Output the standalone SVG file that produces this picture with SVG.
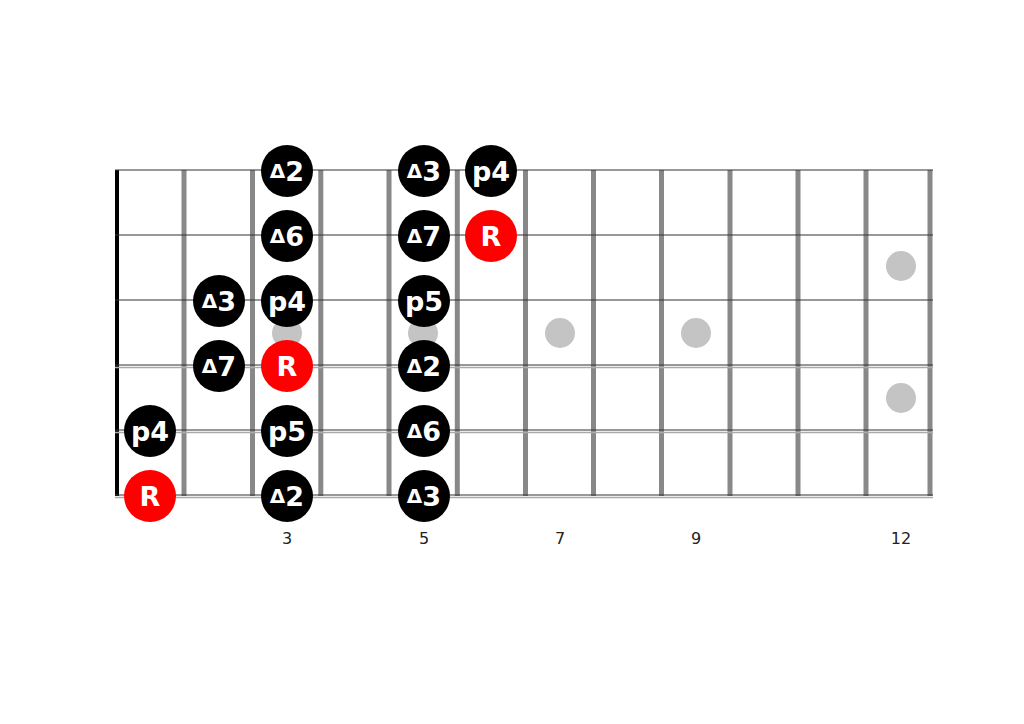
<svg xmlns="http://www.w3.org/2000/svg" width="1024" height="724" viewBox="0 0 1024 724">
<style>
.fret{stroke:#888;stroke-width:5}
.str{stroke:#333;stroke-width:1.2}
.wound{stroke:#aaa;stroke-width:1.5}
.inlay{fill:#c4c4c4}
.n{fill:#000}
.r{fill:#f00}
.lbl{fill:#fff;font-family:"DejaVu Sans",Verdana,sans-serif;font-weight:bold;font-size:27px;text-anchor:middle}
.tri{font-size:20px}
.num{fill:#222;font-family:"DejaVu Sans",Verdana,sans-serif;font-size:16px;text-anchor:middle}
</style>
<rect width="1024" height="724" fill="#fff"/>
<g id="board">
<g id="frets">
<line class="fret" x1="184" y1="170" x2="184" y2="496"/>
<line class="fret" x1="252.5" y1="170" x2="252.5" y2="496"/>
<line class="fret" x1="320.8" y1="170" x2="320.8" y2="496"/>
<line class="fret" x1="389" y1="170" x2="389" y2="496"/>
<line class="fret" x1="457.3" y1="170" x2="457.3" y2="496"/>
<line class="fret" x1="525.5" y1="170" x2="525.5" y2="496"/>
<line class="fret" x1="593.5" y1="170" x2="593.5" y2="496"/>
<line class="fret" x1="661.5" y1="170" x2="661.5" y2="496"/>
<line class="fret" x1="730" y1="170" x2="730" y2="496"/>
<line class="fret" x1="798" y1="170" x2="798" y2="496"/>
<line class="fret" x1="866" y1="170" x2="866" y2="496"/>
<line class="fret" x1="930" y1="170" x2="930" y2="496"/>
</g>
<line id="nut" x1="117" y1="170" x2="117" y2="496" stroke="#000" stroke-width="4"/>
<g id="strings">
<line class="str" x1="115" y1="170" x2="933" y2="170"/>
<line class="str" x1="115" y1="235" x2="933" y2="235"/>
<line class="str" x1="115" y1="300" x2="933" y2="300"/>
<line class="str" x1="115" y1="365" x2="933" y2="365"/>
<line class="wound" x1="115" y1="367.5" x2="933" y2="367.5"/>
<line class="str" x1="115" y1="430" x2="933" y2="430"/>
<line class="wound" x1="115" y1="432.5" x2="933" y2="432.5"/>
<line class="str" x1="115" y1="495" x2="933" y2="495"/>
<line class="wound" x1="115" y1="497.5" x2="933" y2="497.5"/>
</g>
<g id="inlays">
<circle class="inlay" cx="287" cy="333" r="15"/>
<circle class="inlay" cx="423" cy="333" r="15"/>
<circle class="inlay" cx="560" cy="333" r="15"/>
<circle class="inlay" cx="696" cy="333" r="15"/>
<circle class="inlay" cx="901" cy="266" r="15"/>
<circle class="inlay" cx="901" cy="398" r="15"/>
</g>
<g id="fret-numbers">
<text class="num" x="287" y="544">3</text>
<text class="num" x="424" y="544">5</text>
<text class="num" x="560" y="544">7</text>
<text class="num" x="696" y="544">9</text>
<text class="num" x="901" y="544">12</text>
</g>
</g>
<g id="notes">
<g id="f3s1"><circle class="n" cx="287" cy="171" r="26"/><text class="lbl" x="287" y="181"><tspan class="tri" dy="-3">Δ</tspan><tspan dy="3">2</tspan></text></g>
<g id="f3s2"><circle class="n" cx="287" cy="236" r="26"/><text class="lbl" x="287" y="246"><tspan class="tri" dy="-3">Δ</tspan><tspan dy="3">6</tspan></text></g>
<g id="f3s3"><circle class="n" cx="287" cy="301" r="26"/><text class="lbl" x="287" y="311">p4</text></g>
<g id="f3s4"><circle class="r" cx="287" cy="366" r="26"/><text class="lbl" x="287" y="376">R</text></g>
<g id="f3s5"><circle class="n" cx="287" cy="431" r="26"/><text class="lbl" x="287" y="441">p5</text></g>
<g id="f3s6"><circle class="n" cx="287" cy="496" r="26"/><text class="lbl" x="287" y="506"><tspan class="tri" dy="-3">Δ</tspan><tspan dy="3">2</tspan></text></g>
<g id="f5s1"><circle class="n" cx="424" cy="171" r="26"/><text class="lbl" x="424" y="181"><tspan class="tri" dy="-3">Δ</tspan><tspan dy="3">3</tspan></text></g>
<g id="f5s2"><circle class="n" cx="424" cy="236" r="26"/><text class="lbl" x="424" y="246"><tspan class="tri" dy="-3">Δ</tspan><tspan dy="3">7</tspan></text></g>
<g id="f5s3"><circle class="n" cx="424" cy="301" r="26"/><text class="lbl" x="424" y="311">p5</text></g>
<g id="f5s4"><circle class="n" cx="424" cy="366" r="26"/><text class="lbl" x="424" y="376"><tspan class="tri" dy="-3">Δ</tspan><tspan dy="3">2</tspan></text></g>
<g id="f5s5"><circle class="n" cx="424" cy="431" r="26"/><text class="lbl" x="424" y="441"><tspan class="tri" dy="-3">Δ</tspan><tspan dy="3">6</tspan></text></g>
<g id="f5s6"><circle class="n" cx="424" cy="496" r="26"/><text class="lbl" x="424" y="506"><tspan class="tri" dy="-3">Δ</tspan><tspan dy="3">3</tspan></text></g>
<g id="f6s1"><circle class="n" cx="491" cy="171" r="26"/><text class="lbl" x="491" y="181">p4</text></g>
<g id="f6s2"><circle class="r" cx="491" cy="236" r="26"/><text class="lbl" x="491" y="246">R</text></g>
<g id="f2s3"><circle class="n" cx="219" cy="301" r="26"/><text class="lbl" x="219" y="311"><tspan class="tri" dy="-3">Δ</tspan><tspan dy="3">3</tspan></text></g>
<g id="f2s4"><circle class="n" cx="219" cy="366" r="26"/><text class="lbl" x="219" y="376"><tspan class="tri" dy="-3">Δ</tspan><tspan dy="3">7</tspan></text></g>
<g id="f0s5"><circle class="n" cx="150" cy="431" r="26"/><text class="lbl" x="150" y="441">p4</text></g>
<g id="f0s6"><circle class="r" cx="150" cy="496" r="26"/><text class="lbl" x="150" y="506">R</text></g>
</g>
</svg>
